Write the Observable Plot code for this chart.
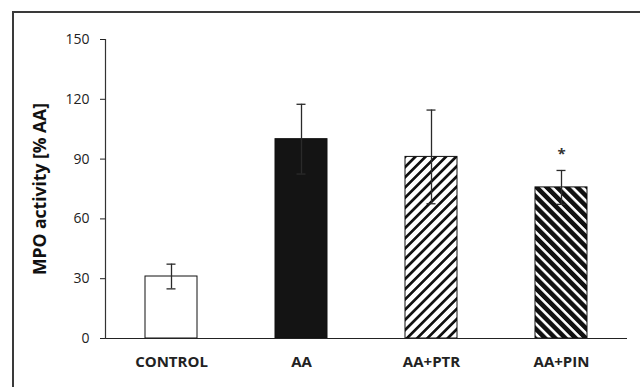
<!DOCTYPE html>
<html>
<head>
<meta charset="utf-8">
<script src="https://cdn.jsdelivr.net/npm/d3@7"></script>
<script src="https://cdn.jsdelivr.net/npm/@observablehq/plot@0.6"></script>
<style>
  html, body { margin: 0; padding: 0; background: #fff; overflow: hidden; }
  #wrap { position: relative; width: 640px; height: 387px; }
  #frame { position: absolute; left: 12px; top: 11px; width: 700px; height: 500px;
           border-left: 2.5px solid #3a3a3a; border-top: 2.5px solid #3a3a3a; pointer-events: none; }
  #wrap svg { position: absolute; left: 0; top: 0; }
</style>
</head>
<body>
<div id="wrap"><div id="frame"></div></div>
<script>
// ---- data ----
const categories = ["CONTROL", "AA", "AA+PTR", "AA+PIN"];
const means = [31.1, 100, 91.1, 75.8];
const errors = [6.2, 17.5, 23.5, 8.5];
const yTicks = [0, 30, 60, 90, 120, 150];
const significance = ["", "", "", "*"];

// ---- styles (kept separate from data) ----
const barFill = {
  "CONTROL": "white",
  "AA": "#141414",
  "AA+PTR": "url(#hatchPTR)",
  "AA+PIN": "url(#hatchPIN)"
};

const rows = categories.map((c, i) => ({
  cat: c, mean: means[i], lo: means[i] - errors[i], hi: means[i] + errors[i], sig: significance[i]
}));

const chart = Plot.plot({
  width: 640,
  height: 387,
  marginLeft: 105,
  marginRight: 13,
  marginTop: 39,
  marginBottom: 49,
  style: { fontFamily: "'Open Sans', sans-serif", background: "transparent", color: "#222" },
  x: { domain: categories, padding: 0.6, paddingOuter: 0.3, label: null },
  y: { domain: [0, 150], label: null },
  color: { type: "identity" },
  marks: [
    Plot.barY(rows, { x: "cat", y: "mean", fill: d => barFill[d.cat], stroke: "#111", strokeWidth: 1 }),
    Plot.ruleX(rows, { x: "cat", y1: "lo", y2: "hi", stroke: "#2a2a2a", strokeWidth: 1.3 }),
    Plot.tickY(rows, { x: "cat", y: "lo", stroke: "#2a2a2a", strokeWidth: 1.3, insetLeft: 21.5, insetRight: 21.5 }),
    Plot.tickY(rows, { x: "cat", y: "hi", stroke: "#2a2a2a", strokeWidth: 1.3, insetLeft: 21.5, insetRight: 21.5 }),
    Plot.text(rows, { x: "cat", y: d => d.hi, text: "sig", dy: -16, fontSize: 15, fill: "#333", fontWeight: "bold" }),
    Plot.ruleY([0], { stroke: "#222", strokeWidth: 1.2 }),
    Plot.frame({ anchor: "left", stroke: "#333", strokeWidth: 1.2 }),
    Plot.axisY({ ticks: yTicks, tickSize: 5, tickPadding: 11, fontSize: 14, stroke: "#222", label: null, tickFormat: d => String(d) }),
    Plot.axisX({ tickSize: 0, tickPadding: 18, fontSize: 15, fontWeight: "bold", label: null }),
    Plot.text(["MPO activity [% AA]"], {
      frameAnchor: "left", textAnchor: "middle", dx: -65, rotate: -90, fontSize: 17.5, fontWeight: "bold", fill: "#111"
    })
  ]
});

// hatch patterns
const svg = d3.select(chart);
const defs = svg.insert("defs", ":first-child");
function hatch(id, angle, bg, fg, period, w) {
  const p = defs.append("pattern")
    .attr("id", id).attr("patternUnits", "userSpaceOnUse")
    .attr("width", period).attr("height", period)
    .attr("patternTransform", `rotate(${angle})`);
  p.append("rect").attr("width", period).attr("height", period).attr("fill", bg);
  p.append("rect").attr("x", 0).attr("width", w).attr("height", period).attr("fill", fg);
}
hatch("hatchPTR", 45, "white", "#111", 7.2, 2.7);
hatch("hatchPIN", -45, "white", "#111", 7.2, 4.6);

document.getElementById("wrap").appendChild(chart);
</script>
</body>
</html>
